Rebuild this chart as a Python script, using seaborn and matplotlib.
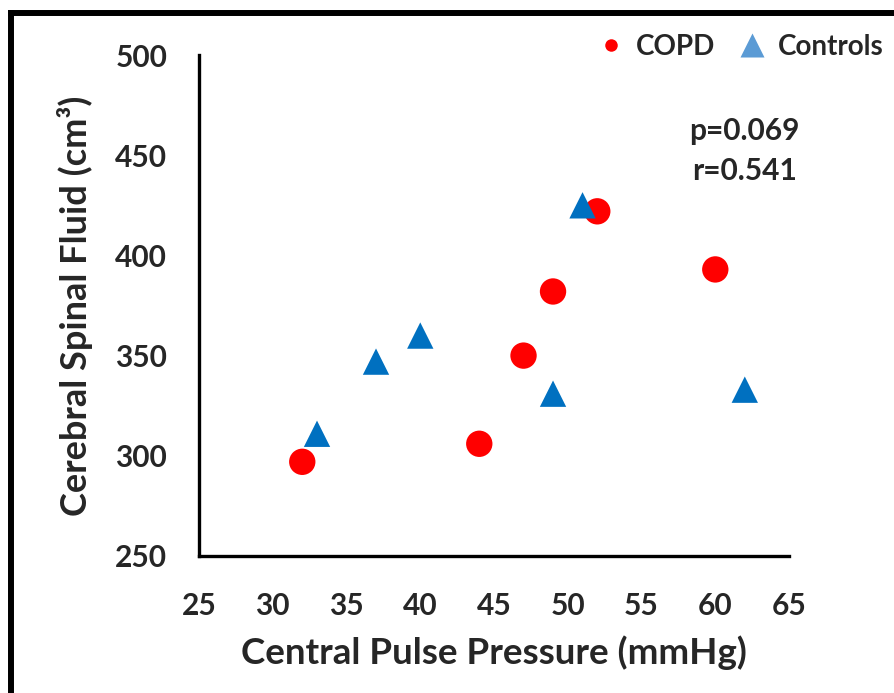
import matplotlib
matplotlib.use("Agg")
import matplotlib.pyplot as plt
from matplotlib.lines import Line2D
import seaborn as sns
import pandas as pd

copd_x = [32, 44, 47, 49, 52, 60]
copd_y = [297, 306, 350, 382, 422, 393]
ctrl_x = [33, 37, 40, 49, 51, 62]
ctrl_y = [311, 347, 360, 331, 425, 333]
groups = ["COPD", "Controls"]
x_ticks = [25, 30, 35, 40, 45, 50, 55, 60, 65]
y_ticks = [250, 300, 350, 400, 450, 500]

df = pd.DataFrame({
    "x": copd_x + ctrl_x,
    "y": copd_y + ctrl_y,
    "group": [groups[0]] * len(copd_x) + [groups[1]] * len(ctrl_x),
})

sns.set_style("white")
plt.rcParams['font.family'] = ['Lato', 'DejaVu Sans']
plt.rcParams['font.weight'] = 'bold'

fig = plt.figure(figsize=(8.94, 6.93), dpi=100)
ax = fig.add_axes([0.2226, 0.1977, 0.66, 0.7229])

sns.scatterplot(data=df, x="x", y="y", hue="group", style="group",
                palette={"COPD": "#FF0000", "Controls": "#0070C0"},
                markers={"COPD": "o", "Controls": "^"},
                s=360, edgecolor="none", linewidth=0, legend=False, ax=ax,
                clip_on=False, zorder=3)

ax.set_xlim(25, 65)
ax.set_ylim(250, 500)
ax.set_xticks(x_ticks)
ax.set_yticks(y_ticks)
ax.set_xticklabels([str(v) for v in x_ticks], fontsize=21.5, fontweight='bold')
ax.set_yticklabels([str(v) for v in y_ticks], fontsize=21.5, fontweight='bold')
for side in ["top", "right"]:
    ax.spines[side].set_visible(False)
for side in ["left", "bottom"]:
    ax.spines[side].set_linewidth(2.4)
    ax.spines[side].set_color("black")
ax.tick_params(axis='both', direction='out', length=6, width=2.4, color='black')
ax.tick_params(axis='x', pad=20)
ax.tick_params(axis='y', pad=17)

ax.set_xlabel("Central Pulse Pressure (mmHg)", fontsize=26.5, fontweight='bold', labelpad=11)
ax.set_ylabel("Cerebral Spinal Fluid (cm³)", fontsize=26, fontweight='bold', labelpad=16)

ax.text(0.925, 0.848, "p=0.069", transform=ax.transAxes, ha='center', va='center',
        fontsize=21.5, fontweight='bold')
ax.text(0.925, 0.768, "r=0.541", transform=ax.transAxes, ha='center', va='center',
        fontsize=21.5, fontweight='bold')

handles = [
    Line2D([], [], marker='o', linestyle='none', markerfacecolor='#FF0000',
           markeredgecolor='none', markersize=9, label=groups[0]),
    Line2D([], [], marker='^', linestyle='none', markerfacecolor='#5B9BD5',
           markeredgecolor='none', markersize=17, label=groups[1]),
]
leg = fig.legend(handles=handles, loc='center left', bbox_to_anchor=(594 / 894, 1 - 47 / 693),
                 ncol=2, frameon=False, fontsize=20, handletextpad=0.3, columnspacing=0.75,
                 handlelength=1.2, borderaxespad=0, borderpad=0)
for t in leg.get_texts():
    t.set_fontweight('bold')

fig.add_artist(Line2D([11 / 894, 11 / 894], [0, 1 - 13 / 693], transform=fig.transFigure,
                      color='black', linewidth=4.3, solid_capstyle='projecting'))
fig.add_artist(Line2D([11 / 894, 1], [1 - 13 / 693, 1 - 13 / 693], transform=fig.transFigure,
                      color='black', linewidth=4.3, solid_capstyle='projecting'))

fig.savefig("out.png", dpi=100, facecolor='white')
